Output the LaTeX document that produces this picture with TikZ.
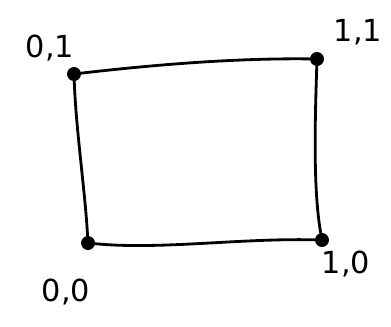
\documentclass[tikz,border=0pt]{standalone}
\usepackage{fontspec}
\setmainfont{DejaVu Sans}
\usepackage{tikz}
\usetikzlibrary{positioning}
\tikzset{
  corner/.style={circle, fill=black, draw=black, inner sep=0pt, minimum size=7.5pt},
  edge/.style={line width=1.6pt, line cap=round},
  cornerlabel/.style={font=\LARGE, inner sep=0pt}
}

\begin{document}
\begin{tikzpicture}[x=0.02cm, y=-0.02cm]
    \useasboundingbox (0,0) rectangle (391,326);
    % corners
    \node[corner] (tl) at (74,74) {};
    \node[corner] (tr) at (317,59) {};
    \node[corner] (bl) at (88,243) {};
    \node[corner] (br) at (322,240) {};

    % sides
    \draw[edge] (tl) .. controls (160,64) and (240,58) .. (tr);
    \draw[edge] (tr) .. controls (315,120) and (313,190) .. (br);
    \draw[edge] (br) .. controls (240,238) and (160,250) .. (bl);
    \draw[edge] (bl) .. controls (85,190) and (76,130) .. (tl);

    % labels
    \node[cornerlabel] (ltl) at (50,48) {0,1};
    \node[cornerlabel] (ltr) at (358,32) {1,1};
    \node[cornerlabel] (lbl) at (66,292) {0,0};
    \node[cornerlabel] (lbr) at (346,264) {1,0};
\end{tikzpicture}
\end{document}
